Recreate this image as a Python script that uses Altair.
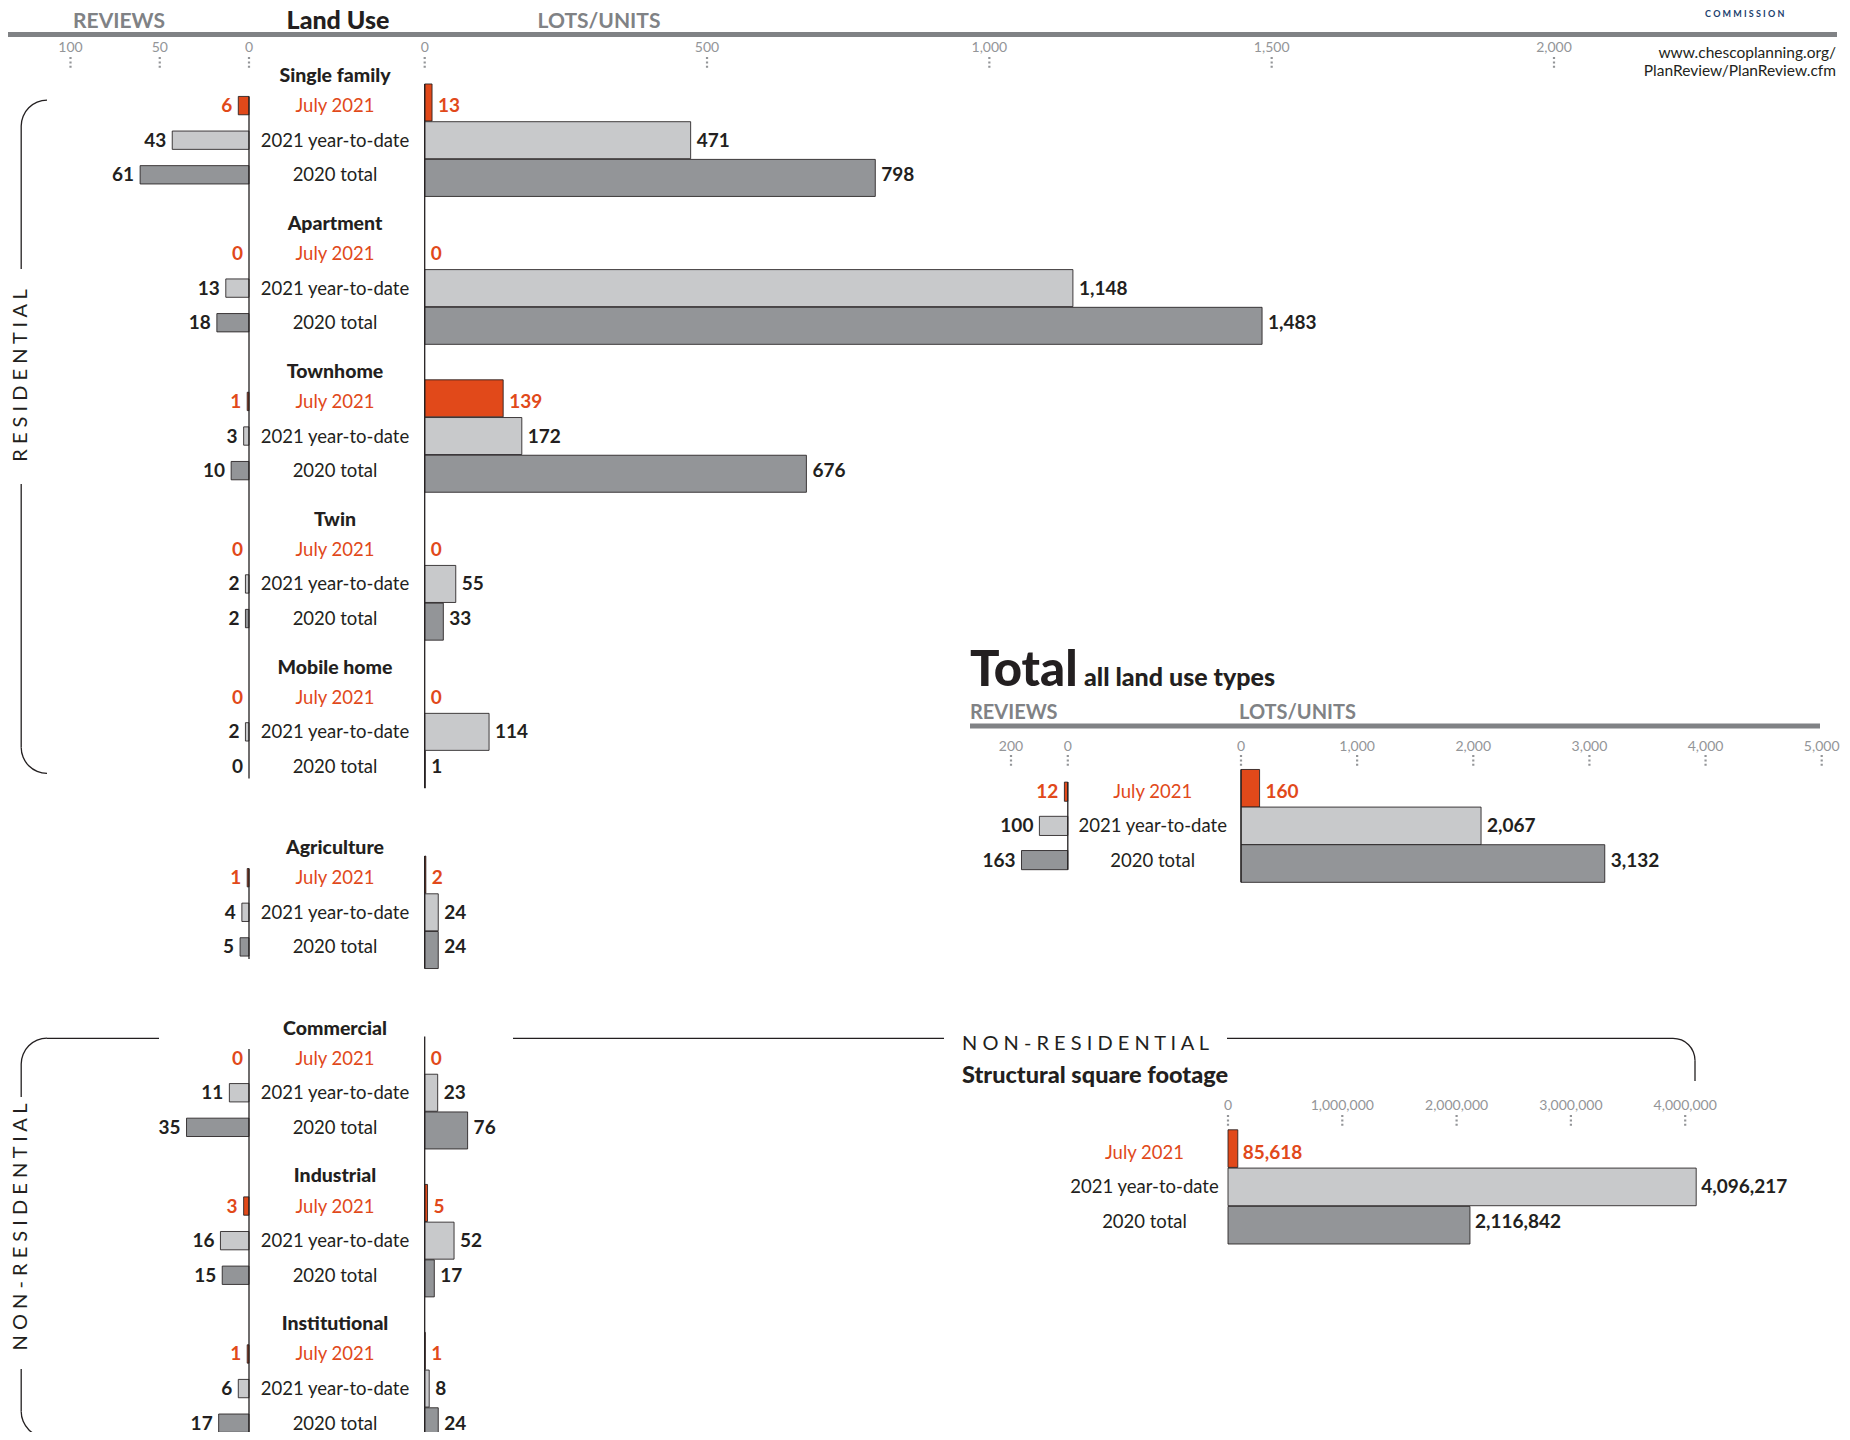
import math
import altair as alt
import pandas as pd

# ---------------- data ----------------
land_uses = ["Single family", "Apartment", "Townhome", "Twin", "Mobile home",
             "Agriculture", "Commercial", "Industrial", "Institutional"]
sections = ["Residential"] * 5 + ["Agriculture"] + ["Non-residential"] * 3
periods = ["July 2021", "2021 year-to-date", "2020 total"]

reviews_july = [6, 0, 1, 0, 0, 1, 0, 3, 1]
reviews_ytd = [43, 13, 3, 2, 2, 4, 11, 16, 6]
reviews_2020 = [61, 18, 10, 2, 0, 5, 35, 15, 17]
lots_july = [13, 0, 139, 0, 0, 2, 0, 5, 1]
lots_ytd = [471, 1148, 172, 55, 114, 24, 23, 52, 8]
lots_2020 = [798, 1483, 676, 33, 1, 24, 76, 17, 24]

total_reviews = [12, 100, 163]
total_lots = [160, 2067, 3132]
sqft_values = [85618, 4096217, 2116842]

review_ticks = [100, 50, 0]
lots_ticks = [0, 500, 1000, 1500, 2000]
total_review_ticks = [200, 0]
total_lots_ticks = [0, 1000, 2000, 3000, 4000, 5000]
sqft_ticks = [0, 1000000, 2000000, 3000000, 4000000]

url_lines = ["www.chescoplanning.org/", "PlanReview/PlanReview.cfm"]

# ---------------- style ----------------
FONT = "Lato"
ORANGE = "#E1491A"
LIGHT_GRAY = "#C8C9CB"
DARK_GRAY = "#939598"
INK = "#231F20"
HEAD_GRAY = "#808285"
TICK_GRAY = "#939598"
NAVY = "#1C3F6E"
fill_colors = [ORANGE, LIGHT_GRAY, DARK_GRAY]
text_colors = [ORANGE, INK, INK]
TDY = 0.5  # small vertical nudge for row texts


def P(v):
    """page pixel -> chart pixel (page has an 8px margin)"""
    return v - 8


ONE = pd.DataFrame({"k": [0]})

# ---------------- layout (row units) ----------------
GROUP_PITCH = 4.275
BLOCK_GAP = 0.94
block_index = {"Residential": 0, "Agriculture": 1, "Non-residential": 2}
ROW_OFF = 0.87
REV_HALF = 0.265
LOTS_HALF = 0.535
LOTS_STEP = 1.09


def head_pos(g):
    return g * GROUP_PITCH + block_index[sections[g]] * BLOCK_GAP


rows, heads = [], []
for g, lu in enumerate(land_uses):
    h = head_pos(g)
    heads.append({"land_use": lu, "y": h})
    revs = [reviews_july[g], reviews_ytd[g], reviews_2020[g]]
    lots = [lots_july[g], lots_ytd[g], lots_2020[g]]
    for r, p in enumerate(periods):
        ly = h + ROW_OFF + r
        lc = h + ROW_OFF + 1 + (r - 1) * LOTS_STEP
        rows.append(dict(land_use=lu, period=p, reviews=revs[r], lots=lots[r], zero=0,
                         label_y=ly, rev_y0=ly - REV_HALF, rev_y1=ly + REV_HALF,
                         lots_y0=lc - LOTS_HALF, lots_y1=lc + LOTS_HALF,
                         fillc=fill_colors[r], tcolor=text_colors[r]))
main = pd.DataFrame(rows)
heads_df = pd.DataFrame(heads)

line_rows = []
for name, first, last, extra in [("Residential", 0, 4, 0.0), ("Agriculture", 5, 5, 0.0),
                                 ("Non-residential", 6, 8, 1.5)]:
    f, l = head_pos(first), head_pos(last)
    line_rows.append(dict(kind="rev", zero=0, y0=f + ROW_OFF - REV_HALF, y1=l + ROW_OFF + 2 + 0.35 + extra))
    line_rows.append(dict(kind="lots", zero=0, y0=f + ROW_OFF + 1 - LOTS_STEP - LOTS_HALF,
                          y1=l + ROW_OFF + 1 + LOTS_STEP + LOTS_HALF + extra))
lines_df = pd.DataFrame(line_rows)

# ---------------- scales ----------------
main_y = alt.Scale(domain=[0, 40], range=[P(75.5), P(75.5 + 40 * 34.6)], nice=False, zero=False)
rev_scale = alt.Scale(domain=[0, 100], range=[P(249), P(70.5)], nice=False, zero=False)
lots_scale = alt.Scale(domain=[0, 2000], range=[P(424.7), P(1554)], nice=False, zero=False)

tot_y = alt.Scale(domain=[0, 1], range=[P(791.7), P(791.7 + 34.2)], nice=False, zero=False)
tot_rev_scale = alt.Scale(domain=[0, 200], range=[P(1067.8), P(1011)], nice=False, zero=False)
tot_lots_scale = alt.Scale(domain=[0, 5000], range=[P(1241), P(1821.7)], nice=False, zero=False)

sq_y = alt.Scale(domain=[0, 1], range=[P(1152.7), P(1152.7 + 34.2)], nice=False, zero=False)
sq_scale = alt.Scale(domain=[0, 4000000], range=[P(1228), P(1685.2)], nice=False, zero=False)


# ---------------- helpers ----------------
def note(text, x, y, size, color=INK, weight="normal", align="left", baseline="middle", angle=0):
    return alt.Chart(ONE).mark_text(text=text, font=FONT, fontSize=size, color=color, fontWeight=weight,
                                    align=align, baseline=baseline, angle=angle).encode(
        x=alt.value(P(x)), y=alt.value(P(y)))


def hline(x0, x1, y, w=1.3, color=INK):
    return alt.Chart(ONE).mark_rule(color=color, strokeWidth=w).encode(
        x=alt.value(P(x0)), x2=alt.value(P(x1)), y=alt.value(P(y)))


def vline(x, y0, y1, w=1.3, color=INK):
    return alt.Chart(ONE).mark_rule(color=color, strokeWidth=w).encode(
        x=alt.value(P(x)), y=alt.value(P(y0)), y2=alt.value(P(y1)))


def corner(cx, cy, t0, t1, r=25.8, w=1.3):
    return alt.Chart(ONE).mark_arc(radius=r + w / 2, radius2=r - w / 2, theta=t0, theta2=t1,
                                   color=INK).encode(x=alt.value(P(cx)), y=alt.value(P(cy)))


def ticks(values, scale, label_y, dot_y0, dot_y1):
    df = pd.DataFrame({"v": values})
    base = alt.Chart(df)
    lab = base.mark_text(font=FONT, fontSize=14, color=TICK_GRAY, align="center", baseline="middle").encode(
        x=alt.X("v:Q", scale=scale, axis=None), y=alt.value(P(label_y)),
        text=alt.Text("v:Q", format=","))
    dots = base.mark_rule(color=TICK_GRAY, strokeWidth=2.2, strokeDash=[2, 2.4]).encode(
        x=alt.X("v:Q", scale=scale, axis=None), y=alt.value(P(dot_y0)), y2=alt.value(P(dot_y1)))
    return [lab, dots]


def bars(df, xfield, xscale, y0, y1, yscale):
    return alt.Chart(df).mark_rect(stroke=INK, strokeWidth=1, strokeOpacity=0.85).encode(
        x=alt.X(f"{xfield}:Q", scale=xscale, axis=None), x2="zero",
        y=alt.Y(f"{y0}:Q", scale=yscale, axis=None), y2=y1,
        fill=alt.Fill("fillc:N", scale=None))


def values_text(df, xfield, xscale, yscale, align, dx, size=19):
    return alt.Chart(df).mark_text(font=FONT, fontSize=size, fontWeight="bold", align=align,
                                   baseline="middle", dx=dx, dy=TDY).encode(
        x=alt.X(f"{xfield}:Q", scale=xscale, axis=None),
        y=alt.Y("label_y:Q", scale=yscale, axis=None),
        text=alt.Text(f"{xfield}:Q", format=","),
        color=alt.Color("tcolor:N", scale=None))


def period_text(df, x, yscale, size=18.5):
    return alt.Chart(df).mark_text(font=FONT, fontSize=size, align="center", baseline="middle",
                                   dy=TDY).encode(
        x=alt.value(P(x)), y=alt.Y("label_y:Q", scale=yscale, axis=None),
        text="period:N", color=alt.Color("tcolor:N", scale=None))


layers = []

# ---------------- header ----------------
layers.append(hline(7, 1837, 34.5, w=5, color=HEAD_GRAY))
layers.append(note("REVIEWS", 119, 22, 21, HEAD_GRAY, "bold", "center"))
layers.append(note("Land Use", 338, 20.5, 25, INK, 900, "center"))
layers.append(note("LOTS/UNITS", 599, 22, 21, HEAD_GRAY, "bold", "center"))
layers.append(note("C O M M I S S I O N", 1705, 14, 9, NAVY, "bold", "left"))
layers.append(note(url_lines[0], 1836, 53, 15.5, INK, "normal", "right"))
layers.append(note(url_lines[1], 1836, 71, 15.5, INK, "normal", "right"))
layers += ticks(review_ticks, rev_scale, 48, 57, 68)
layers += ticks(lots_ticks, lots_scale, 48, 57, 68)

# ---------------- main land-use block ----------------
layers.append(bars(main[main.reviews > 0], "reviews", rev_scale, "rev_y0", "rev_y1", main_y))
layers.append(bars(main[main.lots > 0], "lots", lots_scale, "lots_y0", "lots_y1", main_y))
layers.append(alt.Chart(lines_df[lines_df.kind == "rev"]).mark_rule(color=INK, strokeWidth=1.3).encode(
    x=alt.X("zero:Q", scale=rev_scale, axis=None),
    y=alt.Y("y0:Q", scale=main_y, axis=None), y2="y1"))
layers.append(alt.Chart(lines_df[lines_df.kind == "lots"]).mark_rule(color=INK, strokeWidth=1.3).encode(
    x=alt.X("zero:Q", scale=lots_scale, axis=None),
    y=alt.Y("y0:Q", scale=main_y, axis=None), y2="y1"))
layers.append(period_text(main, 335, main_y))
layers.append(alt.Chart(heads_df).mark_text(font=FONT, fontSize=19.5, fontWeight=900, color=INK,
                                            align="center", baseline="middle", dy=TDY).encode(
    x=alt.value(P(335)), y=alt.Y("y:Q", scale=main_y, axis=None), text="land_use:N"))
layers.append(values_text(main, "reviews", rev_scale, main_y, "right", -6))
layers.append(values_text(main, "lots", lots_scale, main_y, "left", 6))

# ---------------- section brackets ----------------
PI = math.pi
# residential
layers.append(corner(47, 126, 1.5 * PI, 2 * PI))
layers.append(vline(21.2, 126, 269))
layers.append(note("R E S I D E N T I A L", 21.2, 375.5, 20, INK, "normal", "center", angle=270))
layers.append(vline(21.2, 484, 747.5))
layers.append(corner(47, 747.5, PI, 1.5 * PI))
# non-residential (left)
layers.append(hline(47, 159, 1038.3))
layers.append(corner(47, 1064, 1.5 * PI, 2 * PI))
layers.append(vline(21.2, 1064, 1097))
layers.append(note("N O N - R E S I D E N T I A L", 21.2, 1227, 20, INK, "normal", "center", angle=270))
layers.append(vline(21.2, 1369, 1411.5))
layers.append(corner(47, 1411.5, PI, 1.5 * PI))
# non-residential (right)
layers.append(hline(513, 944, 1038.3))
layers.append(note("N O N - R E S I D E N T I A L", 962, 1044, 20, INK, "normal", "left"))
layers.append(hline(1227, 1673, 1038.3))
layers.append(corner(1673, 1060.3, 0, 0.5 * PI, r=22))
layers.append(vline(1695, 1060.3, 1081))

# ---------------- total panel ----------------
tot = pd.DataFrame([dict(period=p, reviews=total_reviews[r], lots=total_lots[r], zero=0,
                         label_y=r, rev_y0=r - 0.28, rev_y1=r + 0.28,
                         lots_y0=1 + (r - 1) * 1.1 - 0.55, lots_y1=1 + (r - 1) * 1.1 + 0.55,
                         fillc=fill_colors[r], tcolor=text_colors[r]) for r, p in enumerate(periods)])
tot_lines = pd.DataFrame([dict(zero=0, y0=-0.28, y1=2.28), dict(zero=0, y0=-0.65, y1=2.65)])

layers.append(note("Total", 970, 686, 49, INK, 900, "left", "alphabetic"))
layers.append(note("all land use types", 1084, 686, 25, INK, 900, "left", "alphabetic"))
layers.append(note("REVIEWS", 970, 713, 20, HEAD_GRAY, "bold", "left"))
layers.append(note("LOTS/UNITS", 1239, 713, 20, HEAD_GRAY, "bold", "left"))
layers.append(hline(970, 1820, 726, w=5, color=HEAD_GRAY))
layers += ticks(total_review_ticks, tot_rev_scale, 746.5, 755, 768)
layers += ticks(total_lots_ticks, tot_lots_scale, 746.5, 755, 768)
layers.append(bars(tot, "reviews", tot_rev_scale, "rev_y0", "rev_y1", tot_y))
layers.append(bars(tot, "lots", tot_lots_scale, "lots_y0", "lots_y1", tot_y))
layers.append(alt.Chart(tot_lines.iloc[[0]]).mark_rule(color=INK, strokeWidth=1.3).encode(
    x=alt.X("zero:Q", scale=tot_rev_scale, axis=None),
    y=alt.Y("y0:Q", scale=tot_y, axis=None), y2="y1"))
layers.append(alt.Chart(tot_lines.iloc[[1]]).mark_rule(color=INK, strokeWidth=1.3).encode(
    x=alt.X("zero:Q", scale=tot_lots_scale, axis=None),
    y=alt.Y("y0:Q", scale=tot_y, axis=None), y2="y1"))
layers.append(period_text(tot, 1152.7, tot_y))
layers.append(values_text(tot, "reviews", tot_rev_scale, tot_y, "right", -6))
layers.append(values_text(tot, "lots", tot_lots_scale, tot_y, "left", 6))

# ---------------- square footage panel ----------------
sq = pd.DataFrame([dict(period=p, sqft=sqft_values[r], zero=0, label_y=r,
                        lots_y0=1 + (r - 1) * 1.12 - 0.55, lots_y1=1 + (r - 1) * 1.12 + 0.55,
                        fillc=fill_colors[r], tcolor=text_colors[r]) for r, p in enumerate(periods)])
layers.append(note("Structural square footage", 962, 1083, 23.5, INK, 900, "left", "alphabetic"))
layers += ticks(sqft_ticks, sq_scale, 1106, 1115, 1128)
layers.append(bars(sq, "sqft", sq_scale, "lots_y0", "lots_y1", sq_y))
layers.append(period_text(sq, 1144.5, sq_y))
layers.append(values_text(sq, "sqft", sq_scale, sq_y, "left", 5))

chart = alt.layer(*layers).resolve_scale(
    x="independent", y="independent"
).properties(
    width=1834, height=1424, padding=0, background="white",
    autosize=alt.AutoSizeParams(type="none")
).configure_view(strokeWidth=0)

chart.save("out.html", embed_options={"renderer": "svg", "actions": False})
